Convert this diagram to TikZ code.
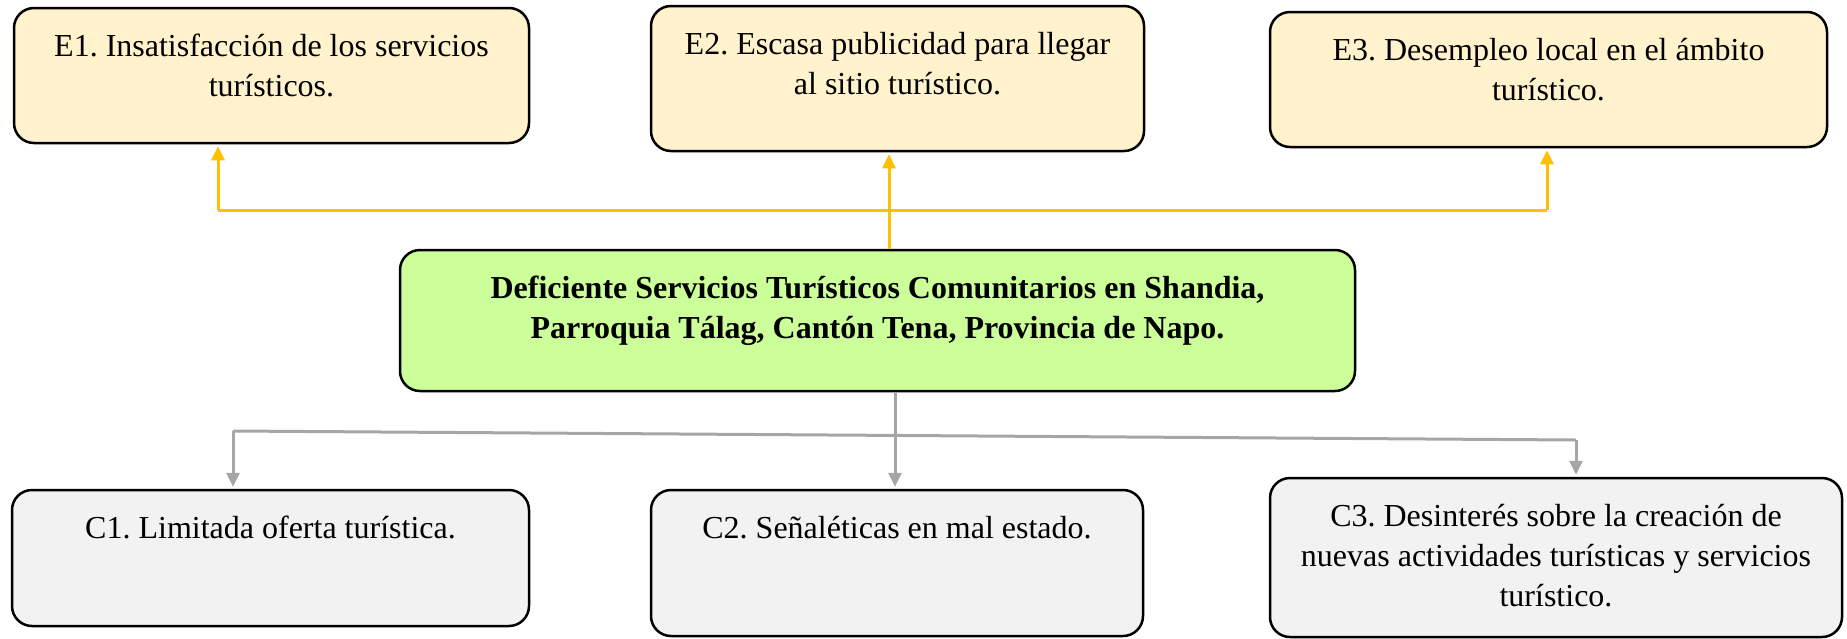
\documentclass[tikz,border=0pt]{standalone}
\usepackage{fontspec}
\setmainfont{Liberation Serif}
\usetikzlibrary{arrows.meta}
\definecolor{efill}{HTML}{FFF2CC}
\definecolor{pfill}{HTML}{CCFF99}
\definecolor{cfill}{HTML}{F2F2F2}
\definecolor{yline}{HTML}{FFC000}
\definecolor{gline}{HTML}{A6A6A6}
\frenchspacing
\begin{document}
\begin{tikzpicture}[x=1pt,y=-1pt,
  box/.style={draw=black,line width=2.5pt,rounded corners=20pt,inner sep=0pt},
  ebox/.style={box,fill=efill},
  pbox/.style={box,fill=pfill},
  cbox/.style={box,fill=cfill},
  txt/.style={anchor=north,inner sep=0pt,align=center,font=\fontsize{32}{40}\selectfont},
  btxt/.style={anchor=north,inner sep=0pt,align=center,font=\fontsize{32}{40}\selectfont\bfseries},
  yconn/.style={draw=yline,line width=3pt},
  yarr/.style={yconn,-{Triangle[length=14pt,width=13pt]}},
  gconn/.style={draw=gline,line width=3pt},
  garr/.style={gconn,-{Triangle[length=14pt,width=13pt]}}
]
\useasboundingbox (0,0) rectangle (1847,638);

% effect boxes
\node[ebox,minimum width=515pt,minimum height=135pt] (e1) at (271.5,75.5) {};
\node[ebox,minimum width=493pt,minimum height=145pt] (e2) at (897.5,78.5) {};
\node[ebox,minimum width=557pt,minimum height=135pt] (e3) at (1548.5,79.5) {};
% problem box
\node[pbox,minimum width=955pt,minimum height=141pt] (p) at (877.5,320.5) {};
% cause boxes
\node[cbox,minimum width=517pt,minimum height=136pt] (c1) at (270.5,558) {};
\node[cbox,minimum width=492pt,minimum height=146pt] (c2) at (897,563) {};
\node[cbox,minimum width=572pt,minimum height=159pt] (c3) at (1556,557.5) {};

% texts
\node[txt] (e1t) at (271.5,28) {\rule{0pt}{28pt}E1. Insatisfacción de los servicios\\ turísticos.};
\node[txt] (e2t) at (897.5,26) {\rule{0pt}{28pt}E2. Escasa publicidad para llegar\\ al sitio turístico.};
\node[txt] (e3t) at (1548.5,32) {\rule{0pt}{28pt}E3. Desempleo local en el ámbito\\ turístico.};
\node[btxt] (pt) at (877.5,270) {\rule{0pt}{28pt}Deficiente Servicios Turísticos Comunitarios en Shandia,\\ Parroquia Tálag, Cantón Tena, Provincia de Napo.};
\node[txt] (c1t) at (270.5,510) {\rule{0pt}{28pt}C1. Limitada oferta turística.};
\node[txt] (c2t) at (897,510) {\rule{0pt}{28pt}C2. Señaléticas en mal estado.};
\node[txt] (c3t) at (1556,498) {\rule{0pt}{28pt}C3. Desinterés sobre la creación de\\ nuevas actividades turísticas y servicios\\ turístico.};

% effect connectors
\coordinate (ya) at (218,210);
\coordinate (yb) at (1547,210);
\draw[yconn] (ya) -- (yb);
\draw[yarr] (ya) -- ([yshift=-2pt]ya |- e1.south);
\draw[yarr] (yb) -- ([yshift=-2pt]yb |- e3.south);
\draw[yarr] ([xshift=11.5pt]p.north) -- ([xshift=11.5pt,yshift=-2pt]p.north |- e2.south);

% cause connectors
\coordinate (gl) at (233,431);
\coordinate (gr) at (1576,440);
\draw[gconn] (gl) -- (gr);
\draw[garr] (gl) -- ([yshift=2pt]gl |- c1.north);
\draw[garr] (gr) -- ([yshift=2pt]gr |- c3.north);
\draw[garr] ([xshift=17.5pt]p.south) -- ([xshift=17.5pt,yshift=2pt]p.south |- c2.north);
\end{tikzpicture}
\end{document}
